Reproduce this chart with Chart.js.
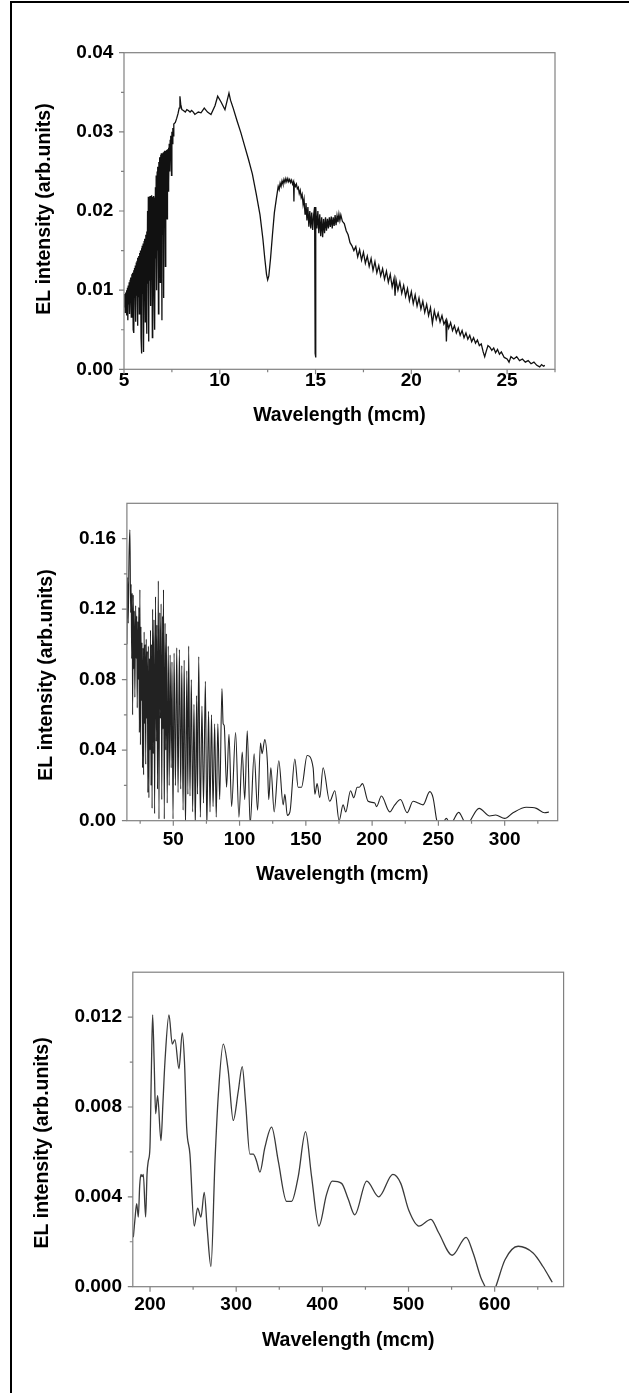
<!DOCTYPE html>
<html>
<head>
<meta charset="utf-8">
<title>EL spectra</title>
<script src="https://cdn.jsdelivr.net/npm/chart.js@4.4.1/dist/chart.umd.min.js"></script>
<style>
  html, body { margin: 0; padding: 0; background: #fff; }
  body { width: 629px; height: 1393px; position: relative; overflow: hidden; }
  .edge { position: absolute; left: 10px; top: 1px; right: 0; bottom: 0; border-left: 2px solid #000; border-top: 2px solid #000; }
  canvas { position: absolute; left: 0; }
</style>
</head>
<body>
<div class="edge"></div>
<canvas id="chart-mir" width="629" height="460" style="top:0"></canvas>
<canvas id="chart-far" width="629" height="490" style="top:460px"></canvas>
<canvas id="chart-thz" width="629" height="443" style="top:950px"></canvas>
<script>
const FONT = "'Liberation Sans', Arial, Helvetica, sans-serif";
const Y_TITLE = "EL intensity (arb.units)";

// panel 1: 5 - 27.5 mcm
const xTicks1 = [5, 10, 15, 20, 25];
const xMinor1 = [7.5, 12.5, 17.5, 22.5, 27.5];
const yTicks1 = [0, 0.01, 0.02, 0.03, 0.04];
const yLabels1 = ["0.00", "0.01", "0.02", "0.03", "0.04"];
const yMinor1 = [0.005, 0.015, 0.025, 0.035];
const spectrum1 = [
  [5.00, 0.0092], [5.02, 0.0078], [5.04, 0.0095], [5.06, 0.0072], [5.09, 0.0097], [5.11, 0.0080],
  [5.13, 0.0100], [5.15, 0.0068], [5.18, 0.0103], [5.20, 0.0062], [5.22, 0.0106], [5.25, 0.0082],
  [5.27, 0.0110], [5.29, 0.0070], [5.32, 0.0113], [5.34, 0.0085], [5.36, 0.0116], [5.38, 0.0066],
  [5.41, 0.0120], [5.43, 0.0088], [5.45, 0.0122], [5.48, 0.0050], [5.50, 0.0125], [5.52, 0.0046],
  [5.55, 0.0128], [5.57, 0.0090], [5.59, 0.0131], [5.61, 0.0060], [5.64, 0.0135], [5.66, 0.0093],
  [5.68, 0.0137], [5.70, 0.0055], [5.73, 0.0141], [5.75, 0.0092], [5.77, 0.0143], [5.80, 0.0070],
  [5.82, 0.0147], [5.84, 0.0098], [5.86, 0.0150], [5.89, 0.0040], [5.91, 0.0153], [5.93, 0.0020],
  [5.95, 0.0156], [5.98, 0.0095], [6.00, 0.0159], [6.02, 0.0022], [6.05, 0.0162], [6.07, 0.0100],
  [6.09, 0.0165], [6.11, 0.0060], [6.14, 0.0170], [6.16, 0.0105], [6.18, 0.0174], [6.20, 0.0045],
  [6.23, 0.0200], [6.25, 0.0108], [6.27, 0.0218], [6.29, 0.0035], [6.32, 0.0217], [6.34, 0.0112],
  [6.36, 0.0219], [6.39, 0.0080], [6.41, 0.0216], [6.43, 0.0118], [6.45, 0.0220], [6.48, 0.0040],
  [6.50, 0.0218], [6.52, 0.0125], [6.55, 0.0219], [6.57, 0.0090], [6.59, 0.0217], [6.61, 0.0050],
  [6.64, 0.0230], [6.66, 0.0140], [6.68, 0.0245], [6.70, 0.0100], [6.73, 0.0250], [6.75, 0.0150],
  [6.77, 0.0256], [6.80, 0.0070], [6.82, 0.0262], [6.84, 0.0158], [6.86, 0.0268], [6.89, 0.0110],
  [6.91, 0.0271], [6.93, 0.0160], [6.95, 0.0273], [6.98, 0.0062], [7.00, 0.0272], [7.02, 0.0170],
  [7.05, 0.0274], [7.07, 0.0090], [7.09, 0.0275], [7.11, 0.0180], [7.14, 0.0276], [7.16, 0.0130],
  [7.18, 0.0276], [7.20, 0.0210], [7.23, 0.0277], [7.25, 0.0190], [7.27, 0.0278], [7.30, 0.0225],
  [7.32, 0.0280], [7.34, 0.0235], [7.36, 0.0285], [7.39, 0.0250], [7.41, 0.0290], [7.43, 0.0265],
  [7.45, 0.0295], [7.48, 0.0245], [7.50, 0.0300], [7.52, 0.0285], [7.55, 0.0305], [7.57, 0.0295],
  [7.60, 0.0310], [7.68, 0.0312], [7.75, 0.0317], [7.82, 0.0323], [7.88, 0.0330], [7.92, 0.0345],
  [7.96, 0.0335], [8.02, 0.0328], [8.10, 0.0327], [8.20, 0.0325], [8.28, 0.0328], [8.36, 0.0327],
  [8.45, 0.0325], [8.53, 0.0327], [8.62, 0.0325], [8.70, 0.0322], [8.88, 0.0325], [9.02, 0.0324],
  [9.19, 0.0330], [9.36, 0.0325], [9.54, 0.0322], [9.75, 0.0333], [9.89, 0.0345], [10.06, 0.0338],
  [10.27, 0.0328], [10.48, 0.0349], [10.56, 0.0340], [10.70, 0.0330], [10.90, 0.0314], [11.10, 0.0299],
  [11.30, 0.0282], [11.50, 0.0265], [11.70, 0.0247], [11.90, 0.0222], [12.10, 0.0195], [12.25, 0.0165],
  [12.35, 0.0140], [12.44, 0.0120], [12.50, 0.0113], [12.56, 0.0118], [12.65, 0.0140], [12.75, 0.0170],
  [12.85, 0.0198], [12.95, 0.0215], [13.05, 0.0231], [13.10, 0.0227], [13.15, 0.0235], [13.20, 0.0231],
  [13.25, 0.0238], [13.30, 0.0234], [13.35, 0.0240], [13.40, 0.0236], [13.45, 0.0241], [13.50, 0.0237],
  [13.55, 0.0241], [13.60, 0.0237], [13.65, 0.0240], [13.70, 0.0236], [13.75, 0.0239], [13.80, 0.0234],
  [13.85, 0.0237], [13.87, 0.0212], [13.89, 0.0235], [13.95, 0.0231], [14.00, 0.0234], [14.05, 0.0228],
  [14.10, 0.0230], [14.15, 0.0222], [14.20, 0.0226], [14.25, 0.0217], [14.30, 0.0221], [14.35, 0.0208],
  [14.40, 0.0215], [14.45, 0.0196], [14.50, 0.0210], [14.55, 0.0188], [14.60, 0.0205], [14.65, 0.0180],
  [14.70, 0.0200], [14.75, 0.0178], [14.80, 0.0198], [14.85, 0.0176], [14.90, 0.0195], [14.95, 0.0205],
  [14.98, 0.0020], [15.00, 0.0015], [15.02, 0.0205], [15.07, 0.0178], [15.12, 0.0200], [15.17, 0.0172],
  [15.22, 0.0196], [15.27, 0.0168], [15.32, 0.0192], [15.37, 0.0167], [15.42, 0.0190], [15.47, 0.0172],
  [15.52, 0.0192], [15.57, 0.0175], [15.62, 0.0190], [15.67, 0.0178], [15.72, 0.0192], [15.77, 0.0180],
  [15.82, 0.0193], [15.87, 0.0178], [15.92, 0.0192], [15.97, 0.0181], [16.02, 0.0195], [16.07, 0.0182],
  [16.12, 0.0194], [16.17, 0.0186], [16.22, 0.0196], [16.27, 0.0188], [16.32, 0.0195], [16.40, 0.0187],
  [16.50, 0.0184], [16.60, 0.0175], [16.70, 0.0170], [16.80, 0.0160], [16.90, 0.0156], [17.00, 0.0150],
  [17.10, 0.0155], [17.20, 0.0142], [17.30, 0.0151], [17.40, 0.0138], [17.50, 0.0148], [17.60, 0.0134],
  [17.70, 0.0143], [17.80, 0.0130], [17.90, 0.0140], [18.00, 0.0125], [18.10, 0.0136], [18.20, 0.0122],
  [18.30, 0.0131], [18.40, 0.0118], [18.50, 0.0127], [18.60, 0.0114], [18.70, 0.0124], [18.80, 0.0110],
  [18.90, 0.0120], [19.00, 0.0104], [19.10, 0.0115], [19.15, 0.0093], [19.20, 0.0113], [19.30, 0.0100],
  [19.40, 0.0110], [19.50, 0.0096], [19.60, 0.0106], [19.70, 0.0092], [19.80, 0.0102], [19.90, 0.0087],
  [20.00, 0.0098], [20.10, 0.0083], [20.20, 0.0094], [20.30, 0.0080], [20.40, 0.0090], [20.50, 0.0076],
  [20.60, 0.0086], [20.70, 0.0072], [20.80, 0.0082], [20.90, 0.0068], [21.00, 0.0078], [21.10, 0.0058],
  [21.20, 0.0074], [21.30, 0.0063], [21.40, 0.0071], [21.50, 0.0060], [21.60, 0.0068], [21.70, 0.0057],
  [21.80, 0.0062], [21.83, 0.0035], [21.87, 0.0060], [21.95, 0.0052], [22.05, 0.0059], [22.15, 0.0049],
  [22.25, 0.0055], [22.35, 0.0046], [22.45, 0.0052], [22.55, 0.0043], [22.65, 0.0049], [22.75, 0.0040],
  [22.85, 0.0046], [22.95, 0.0038], [23.05, 0.0043], [23.15, 0.0035], [23.25, 0.0040], [23.35, 0.0033],
  [23.45, 0.0037], [23.55, 0.0030], [23.65, 0.0032], [23.75, 0.0022], [23.83, 0.0016], [23.90, 0.0022],
  [24.00, 0.0030], [24.10, 0.0028], [24.20, 0.0024], [24.30, 0.0027], [24.40, 0.0021], [24.50, 0.0025],
  [24.60, 0.0019], [24.70, 0.0022], [24.85, 0.0015], [25.00, 0.0013], [25.10, 0.0009], [25.20, 0.0016],
  [25.35, 0.0013], [25.50, 0.0016], [25.65, 0.0011], [25.80, 0.0013], [25.95, 0.0009], [26.10, 0.0011],
  [26.25, 0.0007], [26.40, 0.0009], [26.55, 0.0005], [26.70, 0.0003], [26.80, 0.0006], [26.90, 0.0004],
  [26.97, 0.0005]
];

// panel 2: 15 - 340 mcm
const xTicks2 = [50, 100, 150, 200, 250, 300];
const xMinor2 = [25, 75, 125, 175, 225, 275, 325];
const yTicks2 = [0, 0.04, 0.08, 0.12, 0.16];
const yLabels2 = ["0.00", "0.04", "0.08", "0.12", "0.16"];
const yMinor2 = [0.02, 0.06, 0.10, 0.14];
const spectrum2 = [
  [15.0, 0.100], [15.5, 0.138], [16.0, 0.112], [16.6, 0.150], [17.3, 0.165], [17.8, 0.118],
  [18.2, 0.134], [18.6, 0.092], [19.0, 0.129], [19.3, 0.060], [19.8, 0.128], [20.2, 0.086],
  [20.6, 0.119], [21.0, 0.070], [21.6, 0.122], [22.0, 0.092], [22.4, 0.116], [22.8, 0.064],
  [23.2, 0.113], [23.6, 0.080], [24.0, 0.121], [24.4, 0.050], [24.8, 0.131], [25.2, 0.043],
  [25.6, 0.110], [26.0, 0.068], [26.4, 0.101], [26.8, 0.030], [27.2, 0.098], [27.6, 0.026],
  [28.0, 0.107], [28.4, 0.055], [28.8, 0.100], [29.2, 0.032], [29.6, 0.103], [30.0, 0.058],
  [30.4, 0.096], [30.8, 0.016], [31.2, 0.099], [31.6, 0.013], [32.0, 0.092], [32.4, 0.040],
  [32.8, 0.108], [33.2, 0.020], [33.6, 0.100], [34.0, 0.007], [34.4, 0.120], [34.9, 0.038],
  [35.4, 0.114], [35.9, 0.004], [36.6, 0.127], [37.1, 0.045], [37.6, 0.111], [38.1, 0.018],
  [38.7, 0.136], [39.2, 0.001], [39.8, 0.118], [40.3, 0.058], [40.8, 0.123], [41.3, 0.012],
  [41.9, 0.116], [42.2, 0.052], [42.6, 0.131], [43.2, 0.001], [43.8, 0.112], [44.3, 0.040],
  [44.8, 0.106], [45.4, 0.010], [46.2, 0.099], [46.9, 0.020], [47.6, 0.094], [48.4, 0.030],
  [49.0, 0.090], [49.8, 0.001], [50.6, 0.095], [51.6, 0.020], [52.6, 0.098], [53.6, 0.016],
  [54.6, 0.097], [55.6, 0.018], [56.4, 0.088], [57.4, 0.006], [58.2, 0.091], [59.2, -0.004],
  [60.2, 0.085], [61.0, 0.015], [61.6, 0.099], [62.6, 0.014], [63.6, 0.080], [64.6, 0.005],
  [65.6, 0.066], [66.6, -0.004], [67.6, 0.071], [68.3, 0.015], [69.2, 0.093], [70.4, 0.002],
  [71.6, 0.065], [72.8, 0.010], [74.2, 0.079], [75.3, -0.004], [76.6, 0.062], [77.7, 0.005],
  [78.8, 0.060], [80.0, 0.008], [81.2, 0.055], [82.4, 0.002], [83.6, 0.055], [85.0, 0.012],
  [86.7, 0.075], [87.6, 0.055], [88.4, 0.054], [90.2, 0.019], [92.0, 0.049], [94.0, 0.008],
  [97.0, 0.050], [99.5, 0.002], [102.0, 0.039], [103.9, 0.012], [105.8, 0.051], [108.0, -0.002],
  [111.0, 0.038], [113.6, 0.006], [115.8, 0.044], [117.0, 0.038], [119.0, 0.046], [121.0, 0.033],
  [122.0, 0.012], [123.6, 0.030], [126.1, 0.005], [129.6, 0.034], [132.9, 0.009], [134.2, 0.015],
  [136.0, 0.003], [138.0, 0.005], [141.7, 0.035], [144.2, 0.019], [146.7, 0.019], [151.0, 0.037],
  [155.5, 0.030], [156.8, 0.015], [158.5, 0.021], [160.5, 0.013], [163.0, 0.030], [168.0, 0.011],
  [171.9, 0.017], [175.1, 0.000], [178.1, 0.009], [180.1, 0.005], [183.7, 0.017], [186.2, 0.013],
  [188.7, 0.019], [190.2, 0.019], [192.7, 0.021], [197.0, 0.011], [202.0, 0.010], [203.3, 0.008],
  [207.0, 0.014], [213.3, 0.005], [217.1, 0.009], [221.4, 0.012], [226.4, 0.0045], [230.9, 0.011],
  [234.7, 0.010], [238.4, 0.009], [243.5, 0.0165], [246.0, 0.013], [249.0, -0.0006], [252.0, -0.003],
  [256.0, 0.0013], [259.0, -0.002], [265.3, 0.0047], [269.1, 0.0], [271.5, -0.003], [274.0, 0.0],
  [280.7, 0.007], [288.7, 0.0027], [293.2, 0.0032], [300.0, 0.0013], [306.3, 0.0045], [316.3, 0.0076],
  [323.9, 0.007], [330.1, 0.0045], [333.4, 0.0049]
];

// panel 3: 180 - 680 mcm
const xTicks3 = [200, 300, 400, 500, 600];
const xMinor3 = [250, 350, 450, 550, 650];
const yTicks3 = [0, 0.004, 0.008, 0.012];
const yLabels3 = ["0.000", "0.004", "0.008", "0.012"];
const yMinor3 = [0.002, 0.006, 0.010];
const spectrum3 = [
  [180.6, 0.0022], [182.5, 0.0030], [184.5, 0.0037], [186.4, 0.0031], [188.0, 0.0045], [189.5, 0.0050],
  [190.8, 0.0049], [192.2, 0.0050], [194.9, 0.0031], [196.5, 0.0050], [198.0, 0.0056], [199.9, 0.0062],
  [201.5, 0.0095], [203.0, 0.0121], [204.8, 0.0100], [206.5, 0.0077], [208.8, 0.0085], [212.7, 0.0065],
  [215.0, 0.0082], [217.3, 0.0100], [222.0, 0.0121], [225.8, 0.0108], [228.9, 0.0110], [233.6, 0.0097],
  [237.4, 0.0113], [240.0, 0.0100], [242.5, 0.0071], [246.3, 0.0059], [251.3, 0.0027], [255.2, 0.0035],
  [259.1, 0.0031], [262.9, 0.0042], [266.5, 0.0025], [270.7, 0.0009], [275.4, 0.0056], [279.2, 0.0085],
  [285.0, 0.0108], [290.8, 0.0096], [296.6, 0.0074], [302.4, 0.0087], [307.0, 0.0098], [310.9, 0.0082],
  [315.9, 0.0059], [319.8, 0.0059], [323.6, 0.0056], [327.5, 0.0051], [333.3, 0.0062], [341.1, 0.0071],
  [348.8, 0.0056], [358.5, 0.0038], [364.3, 0.0038], [372.0, 0.0049], [380.5, 0.0069], [387.5, 0.0049],
  [396.0, 0.0027], [404.8, 0.0041], [411.4, 0.0047], [422.3, 0.0046], [430.0, 0.0039], [437.6, 0.0032],
  [451.5, 0.0047], [465.5, 0.0040], [481.8, 0.0050], [491.0, 0.0046], [500.3, 0.0034], [512.0, 0.0027],
  [526.0, 0.0030], [535.0, 0.0024], [550.7, 0.0014], [566.9, 0.0022], [575.0, 0.0015], [584.0, 0.0004],
  [588.8, 0.0000], [595.0, -0.0006], [601.3, 0.0000], [612.0, 0.0012], [627.3, 0.0018], [644.6, 0.0015],
  [656.0, 0.0009], [666.8, 0.0002]
];

const tickFont = { family: FONT, size: 19, weight: "bold", lineHeight: 1.2 };
const titleFont = { family: FONT, size: 19.5, weight: "bold", lineHeight: 1.2 };

// axis frame, outward major/minor tick marks and the rotated y title
const framePlugin = {
  id: "frame",
  afterDatasetsDraw(chart, args, opts) {
    const { ctx, chartArea: a, scales } = chart;
    ctx.save();
    ctx.strokeStyle = "#808080";
    ctx.lineWidth = 1.2;
    ctx.strokeRect(a.left, a.top, a.right - a.left, a.bottom - a.top);
    ctx.beginPath();
    const markX = (values, len) => values.forEach((v) => {
      const px = scales.x.getPixelForValue(v);
      ctx.moveTo(px, a.bottom);
      ctx.lineTo(px, a.bottom + len);
    });
    const markY = (values, len) => values.forEach((v) => {
      const py = scales.y.getPixelForValue(v);
      ctx.moveTo(a.left, py);
      ctx.lineTo(a.left - len, py);
    });
    markX(scales.x.ticks.map((t) => t.value), 5);
    markX(opts.xMinor || [], 3);
    markY(scales.y.ticks.map((t) => t.value), 5);
    markY(opts.yMinor || [], 3);
    ctx.stroke();

    ctx.fillStyle = "#000";
    ctx.font = `bold ${titleFont.size}px ${FONT}`;
    ctx.textAlign = "center";
    ctx.textBaseline = "middle";
    ctx.translate(opts.titleX, (a.top + a.bottom) / 2 + opts.titleShift);
    ctx.rotate(-Math.PI / 2);
    ctx.fillText(Y_TITLE, 0, 0);
    ctx.restore();
  }
};

function buildChart(canvasId, p) {
  return new Chart(document.getElementById(canvasId), {
    type: "line",
    data: {
      datasets: [{
        data: p.points.map(([x, y]) => ({ x, y })),
        borderColor: p.color,
        borderWidth: p.lineWidth,
        pointRadius: 0,
        fill: false,
        tension: p.smooth ? 0.4 : 0,
        cubicInterpolationMode: p.smooth ? "monotone" : "default"
      }]
    },
    options: {
      responsive: false,
      animation: false,
      events: [],
      layout: { padding: p.pad },
      plugins: {
        legend: { display: false },
        tooltip: { enabled: false },
        frame: { xMinor: p.xMinor, yMinor: p.yMinor, titleX: p.titleX, titleShift: p.titleShift }
      },
      scales: {
        x: {
          type: "linear",
          min: p.xMin,
          max: p.xMax,
          grid: { display: false, drawTicks: false },
          border: { display: false },
          afterBuildTicks: (s) => { s.ticks = p.xTicks.map((v) => ({ value: v })); },
          afterFit: (s) => { s.height = p.xHeight; },
          ticks: { padding: p.xPad, autoSkip: false, maxRotation: 0, color: "#000", font: tickFont,
                   callback: (v) => String(v) },
          title: { display: true, text: "Wavelength (mcm)", color: "#000", font: titleFont, padding: 0 }
        },
        y: {
          type: "linear",
          min: p.yMin,
          max: p.yMax,
          grid: { display: false, drawTicks: false },
          border: { display: false },
          afterBuildTicks: (s) => { s.ticks = p.yTicks.map((v) => ({ value: v })); },
          afterFit: (s) => { s.width = p.yWidth; },
          ticks: { padding: p.yPad, autoSkip: false, color: "#000", font: tickFont,
                   callback: (v, i) => p.yLabels[i] },
          title: { display: false }
        }
      }
    },
    plugins: [framePlugin]
  });
}

buildChart("chart-mir", {
  points: spectrum1, color: "#111", lineWidth: 1.3, smooth: false,
  xMin: 5, xMax: 27.5, yMin: 0, yMax: 0.04,
  xTicks: xTicks1, xMinor: xMinor1, yTicks: yTicks1, yLabels: yLabels1, yMinor: yMinor1,
  pad: { left: 32.8, top: 52.7, right: 74, bottom: 32.3 },
  yWidth: 91.2, yPad: 10.7, xHeight: 58.4, xPad: 0.3,
  titleX: 44.5, titleShift: -2
});

buildChart("chart-far", {
  points: spectrum2, color: "#222", lineWidth: 1.1, smooth: true,
  xMin: 15, xMax: 340, yMin: 0, yMax: 0.18,
  xTicks: xTicks2, xMinor: xMinor2, yTicks: yTicks2, yLabels: yLabels2, yMinor: yMinor2,
  pad: { left: 35.3, top: 43.3, right: 71.3, bottom: 63.8 },
  yWidth: 91.6, yPad: 10.9, xHeight: 65.5, xPad: 7.9,
  titleX: 47, titleShift: 13
});

buildChart("chart-thz", {
  points: spectrum3, color: "#3a3a3a", lineWidth: 1.3, smooth: true,
  xMin: 180, xMax: 680, yMin: 0, yMax: 0.014,
  xTicks: xTicks3, xMinor: xMinor3, yTicks: yTicks3, yLabels: yLabels3, yMinor: yMinor3,
  pad: { left: 31.3, top: 19.3, right: 65.4, bottom: 40.8 },
  yWidth: 101.5, yPad: 10.8, xHeight: 65.5, xPad: 6.9,
  titleX: 43, titleShift: 13.5
});
</script>
</body>
</html>
